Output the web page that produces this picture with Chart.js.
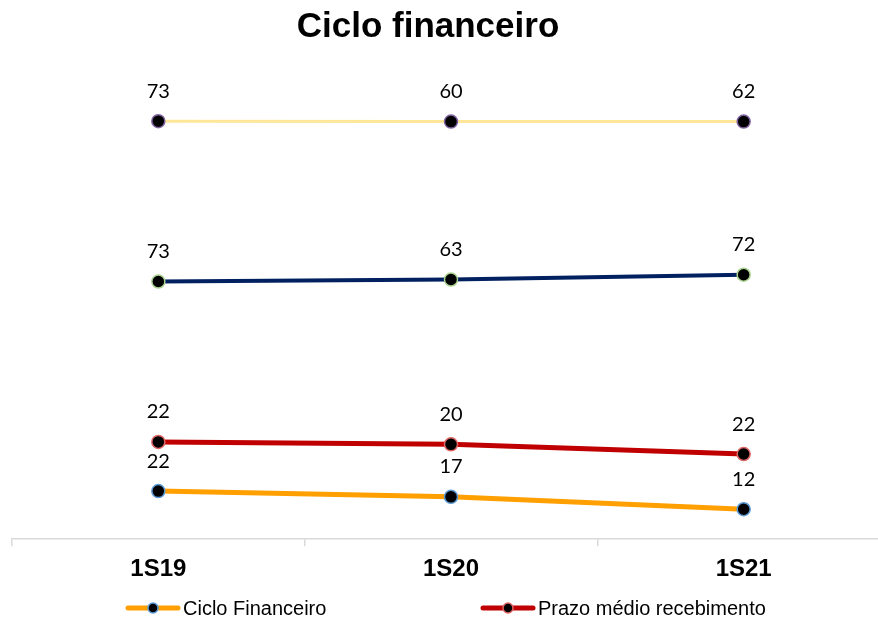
<!DOCTYPE html>
<html>
<head>
<meta charset="utf-8">
<script src="https://cdn.jsdelivr.net/npm/chart.js@4.4.1/dist/chart.umd.min.js"></script>
<style>
  html, body { margin: 0; padding: 0; background: #fff; overflow: hidden; width: 878px; height: 619px; }
  #wrap { position: relative; width: 898px; height: 619px; }
</style>
</head>
<body>
<div id="wrap"><canvas id="chart"></canvas></div>
<script>
const categories = ["1S19", "1S20", "1S21"];

// line levels as drawn in the picture (hidden y axis)
const cicloLevel = [21.8, 19.2, 13.6];
const prazoRecLevel = [44.1, 43.0, 38.6];
const navyLevel = [116.8, 117.7, 119.9];
const yellowLevel = [189.5, 189.3, 189.3];

// numbers printed above the points
const cicloLabels = [22, 17, 12];
const prazoRecLabels = [22, 20, 22];
const navyLabels = [73, 63, 72];
const yellowLabels = [73, 60, 62];

const seriesNames = ["Ciclo Financeiro", "Prazo médio recebimento", "", ""];

const pointLabels = {
  id: "pointLabels",
  afterDatasetsDraw(chart) {
    const ctx = chart.ctx;
    ctx.save();
    ctx.font = "20px Lato, 'Noto Sans', sans-serif";
    ctx.fillStyle = "#000";
    ctx.textAlign = "center";
    ctx.textBaseline = "middle";
    chart.data.datasets.forEach((ds, i) => {
      chart.getDatasetMeta(i).data.forEach((pt, j) => {
        ctx.fillText(String(ds.valueLabels[j]), pt.x, pt.y - 30);
      });
    });
    ctx.restore();
  }
};

// title and bottom legend drawn by hand (legend shows only the first two series)
const titleAndLegend = {
  id: "titleAndLegend",
  afterDraw(chart) {
    const ctx = chart.ctx;
    ctx.save();
    ctx.fillStyle = "#000";
    ctx.font = "bold 35px 'Liberation Sans', Arial, sans-serif";
    ctx.textAlign = "center";
    ctx.textBaseline = "middle";
    ctx.fillText("Ciclo financeiro", 428, 27);

    const legendX = [128, 483];
    const y = 608;
    ctx.font = "20px 'Liberation Sans', Arial, sans-serif";
    ctx.textAlign = "left";
    [0, 1].forEach((i, k) => {
      const ds = chart.data.datasets[i];
      const x = legendX[k];
      ctx.strokeStyle = ds.borderColor;
      ctx.lineWidth = 5;
      ctx.lineCap = "round";
      ctx.beginPath();
      ctx.moveTo(x, y);
      ctx.lineTo(x + 50, y);
      ctx.stroke();
      ctx.beginPath();
      ctx.arc(x + 25, y, 5, 0, Math.PI * 2);
      ctx.fillStyle = ds.pointBackgroundColor;
      ctx.fill();
      ctx.lineWidth = 1.5;
      ctx.strokeStyle = ds.pointBorderColor;
      ctx.stroke();
      ctx.fillStyle = "#000";
      ctx.fillText(ds.label, x + 55, y + 1);
    });
    ctx.restore();
  }
};

function series(i, data, labels, color, marker, width) {
  return {
    label: seriesNames[i],
    data: data,
    valueLabels: labels,
    borderColor: color,
    borderWidth: width,
    pointRadius: 6.5,
    pointHoverRadius: 6.5,
    pointBackgroundColor: "#000",
    pointBorderColor: marker,
    pointBorderWidth: 1.5,
    tension: 0,
    clip: false,
  };
}

new Chart(document.getElementById("chart"), {
  type: "line",
  data: {
    labels: categories,
    datasets: [
      series(0, cicloLevel, cicloLabels, "#FF9F00", "#5B9BD5", 5),
      series(1, prazoRecLevel, prazoRecLabels, "#C00000", "#E06666", 5),
      series(2, navyLevel, navyLabels, "#002060", "#A9D18E", 4),
      series(3, yellowLevel, yellowLabels, "#FFE699", "#8064A2", 3),
    ],
  },
  options: {
    responsive: true,
    maintainAspectRatio: false,
    animation: false,
    layout: { padding: { top: 98, left: 12, right: 2, bottom: 26 } },
    plugins: {
      legend: { display: false },
      title: { display: false },
      tooltip: { enabled: false },
    },
    scales: {
      x: {
        offset: true,
        grid: {
          offset: true,
          drawOnChartArea: false,
          drawTicks: true,
          tickLength: 7,
          color: "#d9d9d9",
          lineWidth: 1.5,
        },
        border: { color: "#d9d9d9", width: 1.5 },
        ticks: {
          color: "#000",
          padding: 9,
          font: { family: "'Liberation Sans', Arial, sans-serif", size: 24, weight: "bold" },
        },
      },
      y: {
        display: false,
        min: 0,
        max: 200,
      },
    },
  },
  plugins: [pointLabels, titleAndLegend],
});
</script>
</body>
</html>
